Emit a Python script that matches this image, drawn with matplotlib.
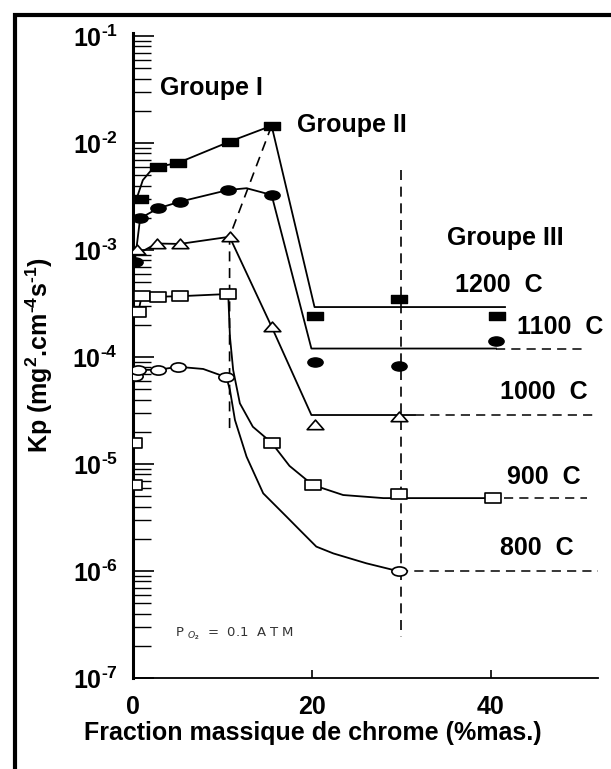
import numpy as np
import matplotlib
matplotlib.use('Agg')
import matplotlib.pyplot as plt
from matplotlib.path import Path
from matplotlib.patches import Rectangle
from matplotlib.ticker import FixedLocator, NullFormatter

plt.rcParams['font.family'] = ['Liberation Sans', 'DejaVu Sans']
plt.rcParams['mathtext.fontset'] = 'custom'
plt.rcParams['mathtext.rm'] = 'Liberation Sans:bold'
plt.rcParams['mathtext.bf'] = 'Liberation Sans:bold'

# measured points (x = % mass Cr, y = Kp)
x1200 = [0.8, 2.8, 5.0, 10.8, 15.5, 20.3, 29.8, 40.7]
y1200 = [3.0e-3, 6.0e-3, 6.5e-3, 1.03e-2, 1.45e-2, 2.4e-4, 3.5e-4, 2.4e-4]
x1100 = [0.2, 0.8, 2.8, 5.25, 10.65, 15.5, 20.3, 29.8, 40.6]
y1100 = [7.8e-4, 1.98e-3, 2.45e-3, 2.83e-3, 3.64e-3, 3.27e-3, 9.0e-5, 8.2e-5, 1.42e-4]
x1000 = [0.4, 2.65, 5.25, 10.8, 15.5, 20.3, 29.8]
y1000 = [1.0e-3, 1.15e-3, 1.14e-3, 1.33e-3, 1.92e-4, 2.31e-5, 2.74e-5]
x900 = [0.1, 0.1, 0.6, 0.97, 2.8, 5.25, 10.65, 15.5, 20.1, 29.8, 40.3]
y900 = [1.56e-5, 6.4e-6, 2.65e-4, 3.7e-4, 3.66e-4, 3.7e-4, 3.88e-4, 1.58e-5, 6.37e-6, 5.2e-6, 4.8e-6]
x800 = [0.2, 0.6, 2.8, 5.06, 10.45, 29.8]
y800 = [6.6e-5, 7.57e-5, 7.6e-5, 8.1e-5, 6.46e-5, 9.9e-7]

# hand drawn curves
c1200_x = [0.45, 1.1, 1.9, 2.8, 5.0, 10.8, 15.5, 20.3, 41.6]
c1200_y = [3.1e-3, 4.5e-3, 5.4e-3, 6.0e-3, 6.5e-3, 1.03e-2, 1.45e-2, 2.93e-4, 2.93e-4]
c1100_x = [0.2, 0.8, 2.8, 5.25, 10.65, 12.7, 15.5, 19.95, 40.6]
c1100_y = [7.8e-4, 1.98e-3, 2.45e-3, 2.83e-3, 3.64e-3, 3.78e-3, 3.27e-3, 1.2e-4, 1.2e-4]
c1000_x = [0.3, 2.65, 5.25, 10.8, 15.5, 19.95, 31.5]
c1000_y = [9e-4, 1.15e-3, 1.14e-3, 1.33e-3, 1.92e-4, 2.87e-5, 2.87e-5]
c900_x = [0.6, 0.97, 2.8, 5.25, 10.65, 10.84, 11.2, 11.95, 13.4, 15.5, 17.5, 20.1, 23.5, 28.0, 40.3]
c900_y = [2.65e-4, 3.7e-4, 3.66e-4, 3.7e-4, 3.88e-4, 1.55e-4, 7.57e-5, 3.69e-5, 2.23e-5,
          1.58e-5, 9.6e-6, 6.37e-6, 5.13e-6, 4.8e-6, 4.8e-6]
c800_x = [0.2, 0.6, 2.8, 5.06, 7.85, 10.45, 10.84, 11.4, 12.7, 14.56, 17.17, 18.66, 20.5, 22.4, 26.1, 29.8]
c800_y = [6.6e-5, 7.57e-5, 7.6e-5, 8.1e-5, 7.73e-5, 6.46e-5, 4.92e-5, 2.58e-5, 1.17e-5, 5.32e-6,
          3.22e-6, 2.41e-6, 1.69e-6, 1.46e-6, 1.18e-6, 9.9e-7]

# dashed extensions and group boundaries
ext_x = [[40.6, 50.8], [31.5, 51.8], [41.5, 50.8], [29.8, 52.0]]
ext_y = [1.2e-4, 2.87e-5, 4.8e-6, 9.9e-7]
bound_a_x = [15.5, 10.8, 10.8]
bound_a_y = [1.45e-2, 1.33e-3, 2.1e-5]
bound_b_x = [30, 30]
bound_b_y = [5.6e-3, 2.43e-7]

temp_labels = ['1200  C', '1100  C', '1000  C', '900  C', '800  C']
temp_pos = [(36.0, 4.7e-4), (42.9, 1.9e-4), (41.0, 4.7e-5), (41.8, 7.6e-6), (41.0, 1.64e-6)]
group_labels = ['Groupe I', 'Groupe II', 'Groupe III']
group_pos = [(3.0, 3.27e-2), (18.3, 1.47e-2), (35.1, 1.3e-3)]

# wide markers (the original scan is stretched horizontally)
rect = Path([(-1, -0.55), (1, -0.55), (1, 0.55), (-1, 0.55), (-1, -0.55)],
            [Path.MOVETO, Path.LINETO, Path.LINETO, Path.LINETO, Path.CLOSEPOLY])
circ = Path.unit_circle()
ell = Path(circ.vertices * np.array([1, 0.6]), circ.codes)
tri = Path([(-1, -0.5), (1, -0.5), (0, 0.65), (-1, -0.5)],
           [Path.MOVETO, Path.LINETO, Path.LINETO, Path.CLOSEPOLY])

fig = plt.figure(figsize=(6.11, 7.69), dpi=100)
ax = fig.add_axes([133 / 611, 91 / 769, 465 / 611, 645 / 769])
ax.set_yscale('log')

lw = 1.3
for cx, cy in [(c1200_x, c1200_y), (c1100_x, c1100_y), (c1000_x, c1000_y),
               (c900_x, c900_y), (c800_x, c800_y)]:
    ax.plot(cx, cy, color='k', lw=lw, zorder=2)

for ex, ey in zip(ext_x, ext_y):
    ax.plot(ex, [ey, ey], color='k', lw=1.1, dashes=(6, 4), zorder=2)
ax.plot(bound_a_x, bound_a_y, color='k', lw=1.2, dashes=(6, 4), zorder=2)
ax.plot(bound_b_x, bound_b_y, color='k', lw=1.2, dashes=(6, 4), zorder=2)

ax.plot(x1200, y1200, ls='none', marker=rect, ms=11, mfc='k', mec='k', zorder=3)
ax.plot(x1100, y1100, ls='none', marker=ell, ms=11, mfc='k', mec='k', zorder=3)
ax.plot(x1000, y1000, ls='none', marker=tri, ms=12, mfc='white', mec='k', mew=1.2, zorder=3)
ax.plot(x900, y900, ls='none', marker=rect, ms=12, mfc='white', mec='k', mew=1.2, zorder=3)
ax.plot(x800, y800, ls='none', marker=ell, ms=11, mfc='white', mec='k', mew=1.2, zorder=3)

for txt, (tx, ty) in zip(group_labels, group_pos):
    ax.text(tx, ty, txt, fontsize=18, fontweight='bold', ha='left', va='center')
for txt, (tx, ty) in zip(temp_labels, temp_pos):
    ax.text(tx, ty, txt, fontsize=18, fontweight='bold', ha='left', va='center')
ax.text(4.7, 2.6e-7, 'P $_{O_2}$  =  0.1  A T M', fontsize=9.5, ha='left', va='center',
        family='DejaVu Sans', color='#333333')

ax.set_xlim(0, 52)
ax.set_ylim(1e-7, 1.067e-1)
ax.spines['top'].set_visible(False)
ax.spines['right'].set_visible(False)
ax.spines['left'].set_linewidth(2.2)
ax.spines['bottom'].set_linewidth(1.3)

decades = [1e-7, 1e-6, 1e-5, 1e-4, 1e-3, 1e-2, 1e-1]
ax.yaxis.set_major_locator(FixedLocator(decades))
ax.set_yticklabels([r'$\mathbf{10}^{\text{-}\mathbf{%d}}$' % -int(round(np.log10(d))) for d in decades])
minors = [m * d for d in decades[:-1] for m in range(2, 10)]
ax.yaxis.set_minor_locator(FixedLocator(minors))
ax.yaxis.set_minor_formatter(NullFormatter())
ax.tick_params(axis='y', which='major', direction='in', length=15, width=1.2, pad=11, labelsize=18)
ax.tick_params(axis='y', which='minor', direction='in', length=13, width=1.0)

ax.set_xticks([0, 20, 40])
ax.set_xticklabels(['0', '20', '40'], fontweight='bold')
ax.tick_params(axis='x', direction='in', length=6, width=1.2, pad=12, labelsize=18)

fig.text(39 / 611, 1 - 355 / 769,
         r'Kp (mg$^{\mathbf{2}}$.cm$^{\text{-}\mathbf{4}}$s$^{\text{-}\mathbf{1}}$)',
         rotation=90, ha='center', va='center', fontsize=18, fontweight='bold')
fig.text(313 / 611, 1 - 733 / 769, 'Fraction massique de chrome (%mas.)',
         ha='center', va='center', fontsize=18, fontweight='bold')

fig.patches.append(Rectangle((15 / 611, -0.05), 1.1, (769 - 15) / 769 + 0.05,
                             transform=fig.transFigure, fill=False, ec='k', lw=3))

fig.savefig('out.png', dpi=100)
